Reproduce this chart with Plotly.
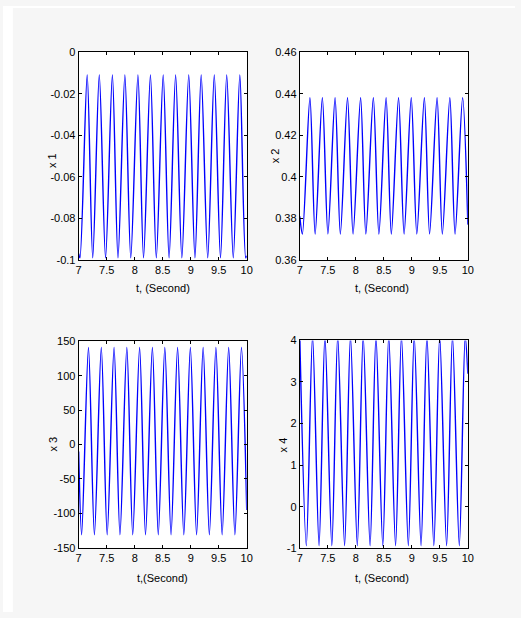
import plotly.graph_objects as go

W, H = 521, 618

# ---- data (extrema of each oscillation) ----
t1 = [7.0, 7.023, 7.152, 7.251, 7.368, 7.480, 7.602, 7.702, 7.825, 7.930, 8.058, 8.158, 8.281,
      8.386, 8.509, 8.614, 8.731, 8.842, 8.965, 9.076, 9.187, 9.304, 9.421, 9.532, 9.643,
      9.760, 9.877, 9.982, 10.0]
x1 = [-0.097, -0.099, -0.011, -0.099, -0.011, -0.099, -0.011, -0.099, -0.011, -0.099, -0.011,
      -0.099, -0.011, -0.099, -0.011, -0.099, -0.011, -0.099, -0.011, -0.099, -0.011, -0.099,
      -0.011, -0.099, -0.011, -0.099, -0.011, -0.099, -0.098]

t2 = [7.0, 7.047, 7.181, 7.274, 7.403, 7.502, 7.630, 7.724, 7.852, 7.951, 8.086, 8.179, 8.313,
      8.412, 8.541, 8.634, 8.763, 8.862, 8.990, 9.089, 9.224, 9.317, 9.451, 9.545, 9.679,
      9.772, 9.907, 10.0]
x2 = [0.381, 0.3725, 0.438, 0.3725, 0.438, 0.3725, 0.438, 0.3725, 0.438, 0.3725, 0.438, 0.3725,
      0.438, 0.3725, 0.438, 0.3725, 0.438, 0.3725, 0.438, 0.3725, 0.438, 0.3725, 0.438, 0.3725,
      0.438, 0.3725, 0.438, 0.377]

t3 = [7.0, 7.053, 7.175, 7.281, 7.404, 7.509, 7.632, 7.737, 7.860, 7.965, 8.088, 8.193, 8.316,
      8.421, 8.538, 8.649, 8.766, 8.877, 8.994, 9.105, 9.222, 9.333, 9.450, 9.561, 9.678,
      9.789, 9.906, 10.0]
x3 = [-10, -131, 141, -131, 141, -131, 141, -131, 141, -131, 141, -131, 141, -131, 141, -131,
      141, -131, 141, -131, 141, -131, 141, -131, 141, -131, 141, -95]

t4 = [7.0, 7.117, 7.228, 7.344, 7.449, 7.572, 7.677, 7.800, 7.905, 8.027, 8.132, 8.255, 8.360,
      8.482, 8.588, 8.710, 8.815, 8.938, 9.043, 9.165, 9.270, 9.393, 9.498, 9.621, 9.726,
      9.848, 9.953, 10.0]
x4 = [4.1, -0.94, 4.1, -0.94, 4.1, -0.94, 4.1, -0.94, 4.1, -0.94, 4.1, -0.94, 4.1, -0.94, 4.1,
      -0.94, 4.1, -0.94, 4.1, -0.94, 4.1, -0.94, 4.1, -0.94, 4.1, -0.94, 4.1, 3.2]

x_ticks = [7, 7.5, 8, 8.5, 9, 9.5, 10]
x_ticktext = ["7", "7.5", "8", "8.5", "9", "9.5", "10"]

y1_ticks = [0, -0.02, -0.04, -0.06, -0.08, -0.1]
y1_text = ["0", "-0.02", "-0.04", "-0.06", "-0.08", "-0.1"]
y2_ticks = [0.46, 0.44, 0.42, 0.4, 0.38, 0.36]
y2_text = ["0.46", "0.44", "0.42", "0.4", "0.38", "0.36"]
y3_ticks = [150, 100, 50, 0, -50, -100, -150]
y3_text = ["150", "100", "50", "0", "-50", "-100", "-150"]
y4_ticks = [4, 3, 2, 1, 0, -1]
y4_text = ["4", "3", "2", "1", "0", "-1"]

y_labels = ["x 1", "x 2", "x 3", "x 4"]
x_labels = ["t, (Second)", "t, (Second)", "t,(Second)", "t, (Second)"]

FONT = "Liberation Sans, Arial, sans-serif"
FS = 11

# ---- layout geometry (pixels) ----
panels = [
    dict(x0=77, x1=248, y0=47, y1=259),
    dict(x0=302, x1=473, y0=47, y1=259),
    dict(x0=77, x1=248, y0=342, y1=552.5),
    dict(x0=302, x1=473, y0=341, y1=553),
]
ylab_pos = [(50, 158), (277, 153), (51, 447), (285, 448)]
xlab_pos = [(163, 288), (386, 288), (162, 583), (386, 583)]

series = [(t1, x1, y1_ticks, y1_text, [-0.1, 0]),
          (t2, x2, y2_ticks, y2_text, [0.36, 0.46]),
          (t3, x3, y3_ticks, y3_text, [-150, 150]),
          (t4, x4, y4_ticks, y4_text, [-1, 4])]

fig = go.Figure()
annotations = []
for i, (p, (tt, vv, yt, ytt, yr)) in enumerate(zip(panels, series)):
    n = "" if i == 0 else str(i + 1)
    fig.add_trace(go.Scatter(x=tt, y=vv, mode="lines",
                             line=dict(color="#0000ff", width=1.4, shape="spline", smoothing=0.85),
                             xaxis="x" + n, yaxis="y" + n, showlegend=False, hoverinfo="skip"))
    common = dict(showline=True, linecolor="black", linewidth=1, mirror="ticks",
                  ticks="inside", ticklen=3, tickcolor="black", tickwidth=1,
                  showgrid=False, zeroline=False, fixedrange=True,
                  tickfont=dict(family=FONT, size=FS, color="black"))
    fig.update_layout(**{
        "xaxis" + n: dict(common, domain=[p["x0"] / W, p["x1"] / W], range=[7, 10],
                          tickvals=x_ticks, ticktext=x_ticktext, anchor="y" + n),
        "yaxis" + n: dict(common, domain=[1 - p["y1"] / H, 1 - p["y0"] / H], range=yr,
                          tickvals=yt, ticktext=ytt, anchor="x" + n),
    })
    lx, ly = ylab_pos[i]
    annotations.append(dict(text=y_labels[i], x=lx / W, y=1 - ly / H, xref="paper", yref="paper",
                            showarrow=False, textangle=-90, xanchor="center", yanchor="middle",
                            font=dict(family=FONT, size=FS, color="black")))
    ax_, ay_ = xlab_pos[i]
    annotations.append(dict(text=x_labels[i], x=ax_ / W, y=1 - ay_ / H, xref="paper", yref="paper",
                            showarrow=False, xanchor="center", yanchor="middle",
                            font=dict(family=FONT, size=FS, color="black")))

# white page strips outside the gray figure area (left and top)
shapes = [
    dict(type="rect", xref="paper", yref="paper", x0=0, x1=10 / W, y0=0, y1=1,
         fillcolor="white", line=dict(width=0), layer="below"),
    dict(type="rect", xref="paper", yref="paper", x0=0, x1=1, y0=1 - 2 / H, y1=1,
         fillcolor="white", line=dict(width=0), layer="below"),
]

fig.update_layout(width=W, height=H, margin=dict(l=0, r=0, t=0, b=0),
                  paper_bgcolor="#f6f6f6", plot_bgcolor="white",
                  annotations=annotations, shapes=shapes, showlegend=False)

post = """
document.documentElement.style.margin='0';
document.documentElement.style.padding='0';
document.documentElement.style.overflow='hidden';
document.body.style.margin='0';
document.body.style.padding='0';
document.body.style.overflow='hidden';
"""
fig.write_html("out.html", config={"displayModeBar": False}, post_script=post)
